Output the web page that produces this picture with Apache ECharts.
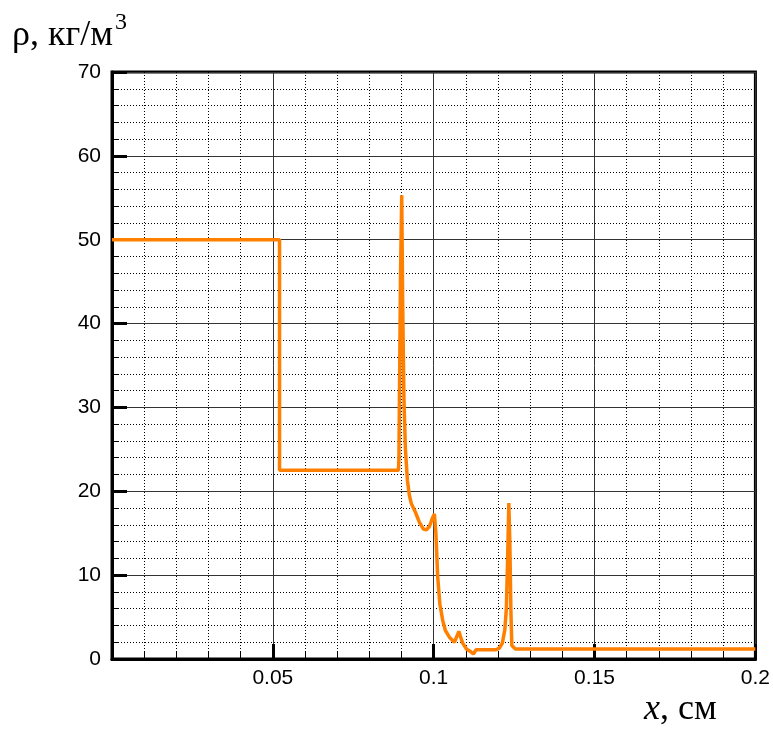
<!DOCTYPE html>
<html>
<head>
<meta charset="utf-8">
<script src="https://cdn.jsdelivr.net/npm/echarts@6/dist/echarts.min.js"></script>
<style>
  html, body { margin: 0; padding: 0; background: #fff; }
  #chart { width: 773px; height: 729px; }
</style>
</head>
<body>
<div id="chart"></div>
<script>
// Density profile rho(x)
const xValues = [
  0, 0.05208, 0.05208, 0.08904, 0.08919, 0.08966, 0.09006, 0.09037, 0.09075,
  0.09121, 0.09183, 0.09245, 0.09307, 0.09432, 0.09556, 0.09680, 0.09773,
  0.09866, 0.09960, 0.10022, 0.10068, 0.10124, 0.10193, 0.10280, 0.10363,
  0.10488, 0.10643, 0.10705, 0.10783, 0.10829, 0.10901, 0.11016, 0.11140,
  0.11233, 0.11317, 0.11938, 0.12040, 0.12134, 0.12211, 0.12258, 0.12298,
  0.12335, 0.12366, 0.12398, 0.12429, 0.12537, 0.2
];
const rhoValues = [
  50, 50, 22.5, 22.5, 24, 45, 55.3, 42, 31,
  25, 21.3, 19.5, 18.5, 17.5, 16.3, 15.5, 15.4,
  15.8, 16.8, 17.3, 15, 9.8, 6.5, 4.6, 3.4,
  2.6, 2.0, 2.0, 3.3, 2.7, 1.9, 1.2, 0.9,
  0.6, 1.1, 1.1, 1.3, 1.9, 3.5, 6, 12,
  18.6, 14, 6, 1.6, 1.2, 1.2
];
const xTicks = { min: 0, max: 0.2, interval: 0.05 };
const yTicks = { min: 0, max: 70, interval: 10 };

const points = xValues.map((x, i) => [x, rhoValues[i]]);

const chart = echarts.init(document.getElementById('chart'), null, { renderer: 'canvas' });
const labelFont = { fontFamily: 'Liberation Sans', fontSize: 21, color: '#000' };
const serif = 'Liberation Serif';

chart.setOption({
  animation: false,
  backgroundColor: '#fff',
  grid: {
    left: 112, right: 17, top: 72, bottom: 70,
    show: true, borderColor: '#000', borderWidth: 3, backgroundColor: 'transparent'
  },
  xAxis: {
    type: 'value',
    min: xTicks.min, max: xTicks.max, interval: xTicks.interval,
    axisLine: { show: true, onZero: false, lineStyle: { color: '#000', width: 3 } },
    axisTick: { show: true, inside: true, length: 15, lineStyle: { color: '#000', width: 3 } },
    minorTick: { show: true, splitNumber: 5, length: 7, lineStyle: { color: '#000', width: 1 } },
    splitLine: { show: true, lineStyle: { color: '#333', width: 1 } },
    minorSplitLine: { show: true, lineStyle: { color: '#000', width: 1, type: [1, 2] } },
    axisLabel: Object.assign({ margin: 9, showMinLabel: false,
      formatter: v => (v === 0 ? '' : String(v)) }, labelFont)
  },
  yAxis: {
    type: 'value',
    min: yTicks.min, max: yTicks.max, interval: yTicks.interval,
    axisLine: { show: true, onZero: false, lineStyle: { color: '#000', width: 3 } },
    axisTick: { show: true, inside: true, length: 15, lineStyle: { color: '#000', width: 3 } },
    minorTick: { show: true, splitNumber: 5, length: 7, lineStyle: { color: '#000', width: 1 } },
    splitLine: { show: true, lineStyle: { color: '#333', width: 1 } },
    minorSplitLine: { show: true, lineStyle: { color: '#000', width: 1, type: [1, 2] } },
    axisLabel: Object.assign({ margin: 11 }, labelFont)
  },
  series: [{
    type: 'line',
    data: points,
    showSymbol: false,
    smooth: false,
    clip: true,
    lineStyle: { color: '#ff8000', width: 3.5 },
    z: 5
  }],
  graphic: [
    { type: 'text', left: 12, top: 18,
      style: { text: 'ρ, кг/м', fontFamily: serif, fontSize: 36, fill: '#000' } },
    { type: 'text', left: 115, top: 11,
      style: { text: '3', fontFamily: serif, fontSize: 24, fill: '#000' } },
    { type: 'text', left: 644, top: 692,
      style: { text: '{i|x}{n|, см}',
        rich: {
          i: { fontFamily: serif, fontStyle: 'italic', fontSize: 36, fill: '#000' },
          n: { fontFamily: serif, fontSize: 36, fill: '#000' }
        } } }
  ]
});
</script>
</body>
</html>
